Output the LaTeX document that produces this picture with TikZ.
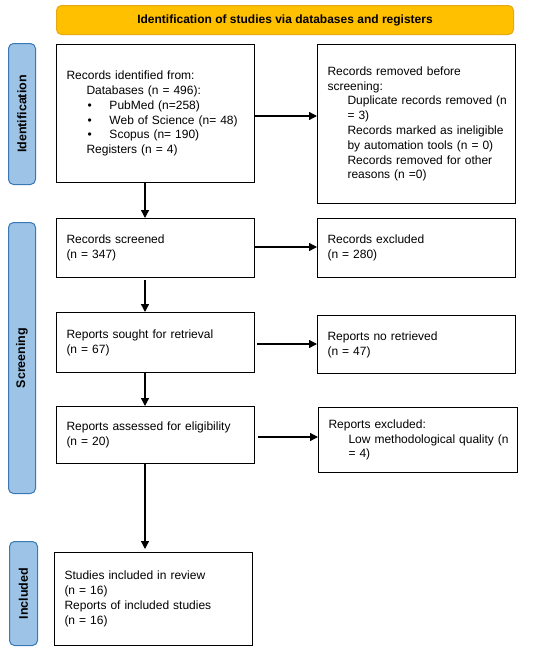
\documentclass[tikz,border=0pt]{standalone}
\usepackage{fontspec}
\setmainfont{Liberation Sans}
\usetikzlibrary{arrows.meta}
\definecolor{hdrfill}{HTML}{FFC000}
\definecolor{hdrdraw}{HTML}{E8A910}
\definecolor{sidefill}{HTML}{9DC3E6}
\definecolor{sidedraw}{HTML}{3A78B5}
\tikzset{
  box/.style={draw=black, line width=1pt, inner xsep=10pt, inner ysep=0pt, align=left, font=\fontsize{12}{14.8}\selectfont, anchor=north west},
  side/.style={draw=sidedraw, fill=sidefill, line width=1pt, rounded corners=5pt},
  sidetext/.style={rotate=90, font=\bfseries\fontsize{12.5}{14}\selectfont},
  arr/.style={-{Triangle[length=8pt,width=8pt]}, line width=1.3pt},
}
\newcommand{\ind}{\hspace*{20pt}}
\newcommand{\bul}{\hspace*{21pt}\makebox[22pt][l]{\textbullet}}
\begin{document}
\begin{tikzpicture}[x=1pt,y=-1pt]
\useasboundingbox (0,0) rectangle (550,653);
% header
\node[draw=hdrdraw, fill=hdrfill, line width=1pt, rounded corners=5pt, minimum width=457pt, minimum height=29pt, font=\bfseries\fontsize{12}{14}\selectfont, anchor=north west] (hdr) at (56,5) {Identification of studies via databases and registers};
% side labels
\node[side, minimum width=27pt, minimum height=141pt, anchor=north west] (sid) at (8,43) {};
\node[sidetext] (sidt) at (sid.center) {Identification};
\node[side, minimum width=27pt, minimum height=271pt, anchor=north west] (ssc) at (8,222) {};
\node[sidetext] (ssct) at (ssc.center) {Screening};
\node[side, minimum width=28pt, minimum height=104pt, anchor=north west] (sin) at (9,541) {};
\node[sidetext] (sint) at (sin.center) {Included};
% boxes
\node[box, text width=178pt, minimum height=138pt] (b1) at (56,44) {Records identified from:\\
\ind Databases (n = 496):\\
\bul PubMed (n=258)\\
\bul Web of Science (n= 48)\\
\bul Scopus (n= 190)\\
\ind Registers (n = 4)};
\node[box, text width=178pt, minimum height=159pt] (r1) at (317,44) {Records removed before\\
screening:\\
\ind \mbox{Duplicate records removed (n}\\
\ind = 3)\\
\ind Records marked as ineligible\\
\ind by automation tools (n = 0)\\
\ind Records removed for other\\
\ind reasons (n =0)};
\node[box, text width=178pt, minimum height=59pt] (b2) at (56,218) {Records screened\\(n = 347)};
\node[box, text width=178pt, minimum height=59pt] (r2) at (317,218) {Records excluded\\(n = 280)};
\node[box, text width=178pt, minimum height=60pt] (b3) at (56,312) {Reports sought for retrieval\\(n = 67)};
\node[box, text width=178pt, minimum height=58pt] (r3) at (317,315) {Reports no retrieved\\(n = 47)};
\node[box, text width=178pt, minimum height=57pt] (b4) at (56,406) {Reports assessed for eligibility\\(n = 20)};
\node[box, text width=179pt, minimum height=65pt] (r4) at (318,407) {Reports excluded:\\
\ind \mbox{Low methodological quality (n}\\
\ind = 4)};
\node[box, text width=178pt, minimum height=93pt] (b5) at (54,552) {Studies included in review\\
(n = 16)\\
Reports of included studies\\
(n = 16)};
% arrows
\draw[arr] (b1.east |- 0,116) -- (r1.west |- 0,116);
\draw[arr] (b2.east |- 0,247) -- (r2.west |- 0,247);
\draw[arr] (257,344) coordinate (a3s) -- (r3.west |- a3s);
\draw[arr] (258,437) coordinate (a4s) -- (r4.west |- a4s);
\draw[arr] (b1.south -| 145,0) -- (b2.north -| 145,0);
\draw[arr] (145,280) coordinate (d2s) -- (b3.north -| d2s);
\draw[arr] (b3.south -| 145,0) -- (b4.north -| 145,0);
\draw[arr] (b4.south -| 145,0) -- (145,549) coordinate (d4e);
\end{tikzpicture}
\end{document}
